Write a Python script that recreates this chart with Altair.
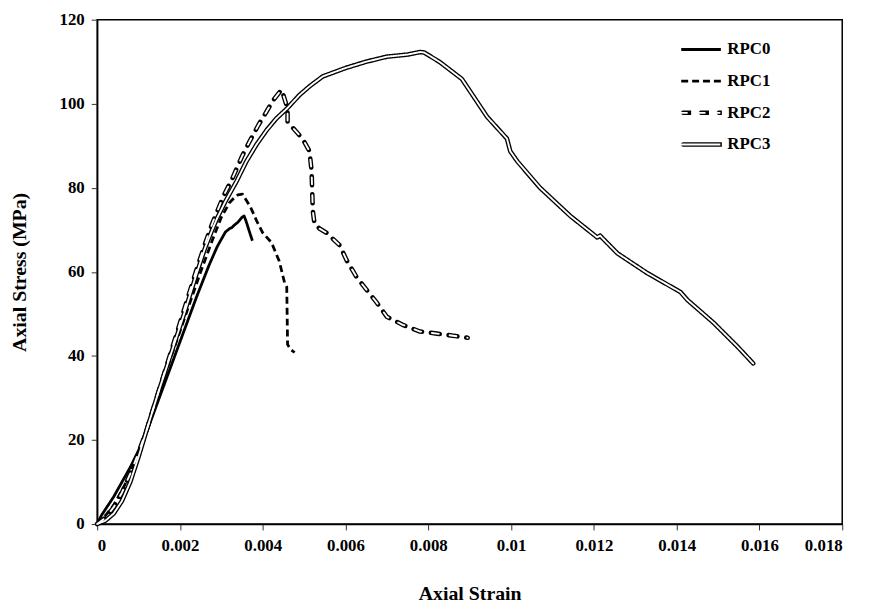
import altair as alt
import pandas as pd

series_names = ["RPC0", "RPC1", "RPC2", "RPC3"]

rpc0_strain = [0, 0.0001, 0.0002, 0.0004, 0.0006, 0.0008, 0.001, 0.0012, 0.0015, 0.0018, 0.0021,
               0.0024, 0.0027, 0.0029, 0.0031, 0.0032, 0.00325, 0.0033, 0.0034, 0.0035, 0.00355,
               0.0036, 0.00368, 0.00375]
rpc0_stress = [0, 2, 3.5, 6.5, 10, 13.5, 17.5, 22, 30, 38, 46,
               54, 61.5, 66, 69.5, 70.3, 70.5, 71, 71.8, 73, 73.3,
               72, 69.5, 67.4]

rpc1_strain = [0, 0.0002, 0.0004, 0.0006, 0.0008, 0.001, 0.0013, 0.0016, 0.0019, 0.0022, 0.0025,
               0.0028, 0.003, 0.0032, 0.0033, 0.0034, 0.00351, 0.0037, 0.00385, 0.004, 0.00421,
               0.0044, 0.00453, 0.00458, 0.0046, 0.00468, 0.00477]
rpc1_stress = [0, 2, 4.5, 8, 12, 17, 26, 34.5, 43, 51.5, 60,
               68, 73, 76.5, 77.5, 78.3, 78.5, 75.5, 72.2, 69.3, 67,
               62.5, 57.3, 56.4, 42.7, 41.5, 40.8]

rpc2_strain = [0, 0.0002, 0.0004, 0.0006, 0.0008, 0.001, 0.0012, 0.0015, 0.0018, 0.0021, 0.0024,
               0.0026, 0.00278, 0.00305, 0.00327, 0.0035, 0.00368, 0.0039, 0.00409, 0.00425, 0.00441,
               0.00446, 0.0046, 0.0046, 0.00496, 0.00513, 0.00518, 0.00521, 0.00525, 0.00537, 0.00554,
               0.00586, 0.00603, 0.00627, 0.00651, 0.00676, 0.007, 0.00738, 0.0078, 0.00821, 0.0086,
               0.00895]
rpc2_stress = [0, 1.5, 4, 7.5, 12, 17, 22.5, 32, 41.5, 51, 60.5,
               66.5, 71.5, 78, 82.3, 87.5, 91, 95, 98.1, 100.8, 102.8,
               103.3, 98.8, 95.7, 91.7, 88.7, 84, 74.5, 71.5, 70.3, 69.3,
               66.3, 62.7, 58.7, 55.7, 52.6, 49.3, 47.4, 45.8, 45.3, 44.8,
               44.3]

rpc3_strain = [0, 0.0002, 0.0004, 0.0006, 0.0008, 0.001, 0.0012, 0.0015, 0.0018, 0.0021, 0.0024,
               0.0026, 0.00278, 0.0029, 0.0031, 0.00337, 0.0036, 0.00385, 0.0041, 0.00433, 0.00458,
               0.00489, 0.00515, 0.00545, 0.006, 0.0065, 0.007, 0.0075, 0.0078, 0.0079, 0.00828,
               0.00881, 0.00942, 0.0099, 0.00998, 0.01015, 0.0107, 0.01143, 0.01208, 0.01215, 0.01257,
               0.01329, 0.01409, 0.01426, 0.01489, 0.01547, 0.01585]
rpc3_stress = [0, 0.8, 2.5, 5.5, 10, 16, 22.5, 32, 41, 50, 59.5,
               65.5, 70, 72.8, 76.8, 81.6, 86.2, 90.3, 93.8, 96.5, 98.8,
               102.1, 104.3, 106.5, 108.5, 110, 111.2, 111.7, 112.3, 112.2, 109.9,
               105.9, 96.9, 91.7, 88.7, 86.3, 80, 73.3, 68.2, 68.6, 64.4,
               59.7, 55.2, 53.3, 47.9, 42.2, 38.2]

x_ticks = [0, 0.002, 0.004, 0.006, 0.008, 0.01, 0.012, 0.014, 0.016, 0.018]
y_ticks = [0, 20, 40, 60, 80, 100, 120]

rows = []
for name, xs, ys in [("RPC0", rpc0_strain, rpc0_stress), ("RPC1", rpc1_strain, rpc1_stress),
                     ("RPC2", rpc2_strain, rpc2_stress), ("RPC3", rpc3_strain, rpc3_stress)]:
    for i, (a, b) in enumerate(zip(xs, ys)):
        rows.append({"series": name, "strain": a, "stress": b, "idx": i})
df = pd.DataFrame(rows)
df_single = df[df["series"].isin(["RPC0", "RPC1"])]
df_double = df[df["series"].isin(["RPC2", "RPC3"])]

FONT = "Liberation Serif"

x_enc = alt.X("strain:Q", scale=alt.Scale(domain=[0, 0.018], nice=False, zero=False),
              axis=alt.Axis(values=x_ticks, format="~g", title="Axial Strain"))
y_enc = alt.Y("stress:Q", scale=alt.Scale(domain=[0, 120], nice=False),
              axis=alt.Axis(values=y_ticks, title="Axial Stress (MPa)"))


def make_legend(show_labels, width):
    kw = dict(title=None, orient="none", legendX=588, legendY=14,
              symbolType="stroke", symbolSize=1600, clipHeight=32,
              symbolStrokeWidth=width,
              labelFont=FONT, labelFontWeight="bold", labelFontSize=17,
              labelColor="black", labelOffset=5, rowPadding=0, padding=0)
    if not show_labels:
        kw["labelExpr"] = "''"
    return alt.Legend(**kw)


dash_outer = [[1, 0], [7, 4], [9, 9], [1, 0]]
dash_inner = [[1, 0], [1, 0], [7, 11], [1, 0]]

# thin black lines (RPC0, RPC1) + main legend
thin = alt.Chart(df_single).mark_line(color="black", strokeWidth=2.8, strokeJoin="round").encode(
    x=x_enc, y=y_enc, order="idx:Q",
    strokeDash=alt.StrokeDash("series:N", scale=alt.Scale(domain=series_names, range=dash_outer),
                              legend=make_legend(True, 3)),
)

# thick black outline of double lines (RPC2, RPC3)
thick = alt.Chart(df_double).mark_line(strokeWidth=4.6, strokeJoin="round", strokeCap="round").encode(
    x=x_enc, y=y_enc, order="idx:Q",
    color=alt.Color("series:N", scale=alt.Scale(domain=series_names,
                                                range=["transparent", "transparent", "black", "black"]),
                    legend=make_legend(False, 4.6)),
    strokeDash=alt.StrokeDash("series:N", scale=alt.Scale(domain=series_names, range=dash_outer),
                              legend=make_legend(False, 4.6)),
)

# white core of double lines
core = alt.Chart(df_double).mark_line(strokeWidth=1.9, strokeJoin="round", strokeCap="round",
                                     strokeDashOffset=-1).encode(
    x=x_enc, y=y_enc, order="idx:Q",
    color=alt.Color("series:N", scale=alt.Scale(domain=series_names,
                                                range=["transparent", "transparent", "white", "white"]),
                    legend=make_legend(False, 1.9)),
    strokeDash=alt.StrokeDash("series:N", scale=alt.Scale(domain=series_names, range=dash_inner),
                              legend=make_legend(False, 1.9)),
)

chart = alt.layer(thin, thick, core).resolve_scale(
    color="independent", strokeDash="independent"
).resolve_legend(
    color="independent", strokeDash="independent"
).properties(
    width=752, height=509,
    autosize=alt.AutoSizeParams(type="none"),
    padding={"left": 90, "top": 9, "right": 25, "bottom": 83},
).configure_view(
    stroke="black", strokeWidth=1.5
).configure_axis(
    grid=False, domainColor="black", domainWidth=1.5, tickColor="#333333", tickSize=6,
    labelFont=FONT, labelFontWeight="bold", labelFontSize=17, labelColor="black",
    titleFont=FONT, titleFontWeight="bold", titleFontSize=20, titleColor="black",
).configure_axisX(
    labelPadding=8, titlePadding=30
).configure_axisY(
    labelPadding=7, titlePadding=30
)

chart.save("out.html", embed_options={"renderer": "svg", "actions": False})
